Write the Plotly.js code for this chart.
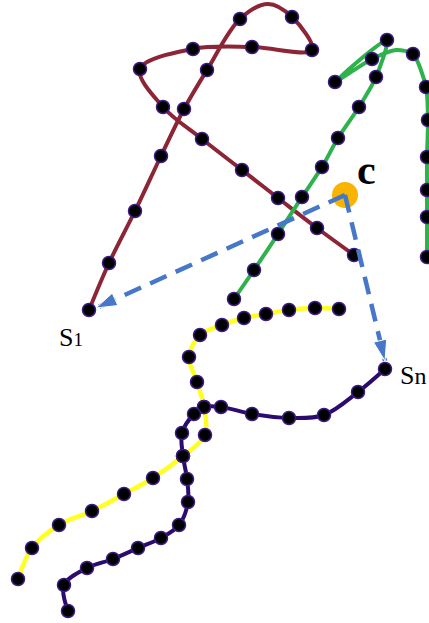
<!DOCTYPE html>
<html><head><meta charset="utf-8">
<script src="https://cdn.plot.ly/plotly-3.0.1.min.js"></script>
<style>html,body{margin:0;padding:0;background:#fff}#plot{width:429px;height:623px}</style>
</head><body><div id="plot"></div>
<script>
// Curves (pixel-space coordinates); dotted: 1 = dot drawn on vertex
const redX = [89,109,135,161,184,207,240,268,292,312,252,193,140,163,202,242,278,317,354];
const redY = [310,263,211,156,109,70,19,4,17,50,47,49,69,107,139,170,198,228,255];
const redDot = [1,1,1,1,1,1,1,0,1,1,1,1,1,1,1,1,1,1,1];

const greenX = [234,254,278,302,322,338,359,376,387,335,372,396,413,426,428,427,427,427,427];
const greenY = [299,270,234,197,167,138,107,77,40,82,59,50,54,87,120,157,190,217,257];
const greenDot = [1,1,1,1,1,1,1,1,1,1,1,0,1,1,1,1,1,1,1];

const yellowX = [339,315,289,266,244,222,200,189,197,204,205,183,153,124,92,59,32,18];
const yellowY = [309,308,310,314,318,325,335,357,382,407,435,456,478,494,511,525,548,579];
const yellowDot = [1,1,1,1,1,1,1,1,1,1,1,1,1,1,1,1,1,1];

const purpleX = [385,358,324,289,252,221,204,194,182,183,187,188,179,161,138,113,87,64,68];
const purpleY = [369,392,415,418,414,407,407,414,433,456,479,502,525,538,548,559,568,585,611];
const purpleDot = [1,1,1,1,1,1,1,1,1,1,1,1,1,1,1,1,1,1,1];

const centre = {x: 345, y: 195};
const arrowTips = [{x: 96, y: 308}, {x: 385, y: 361}];
const labels = [
  {text: '<b>c</b>', x: 366, y: 170, size: 42},
  {text: 'S<span style="font-size:19px">1</span>', x: 71, y: 337, size: 26},
  {text: 'S<span style="font-size:24px">n</span>', x: 413, y: 375, size: 26}
];

function curve(xs, ys, dots, color, smoothing, width) {
  return {
    x: xs, y: ys, type: 'scatter', mode: 'lines+markers',
    line: {color: color, width: width, shape: 'spline', smoothing: smoothing},
    marker: {size: dots.map(d => d ? 13 : 0), color: '#000000', opacity: 1,
             line: {color: '#3b1a86', width: 1.5}},
    hoverinfo: 'skip', showlegend: false, cliponaxis: false
  };
}

const traces = [];
traces.push(curve(redX, redY, redDot, '#8c2636', 1.0, 4));
traces.push(curve(greenX, greenY, greenDot, '#2fb24c', 0.7, 4));
traces.push(curve(yellowX, yellowY, yellowDot, '#ffff22', 1.0, 4.5));
traces.push(curve(purpleX, purpleY, purpleDot, '#2c0b6e', 1.0, 4));
traces.push({
  x: [centre.x], y: [centre.y], type: 'scatter', mode: 'markers',
  marker: {size: 26, color: '#f8b400', opacity: 1}, hoverinfo: 'skip', showlegend: false
});
arrowTips.forEach(t => {
  traces.push({
    x: [centre.x, t.x], y: [centre.y, t.y], type: 'scatter', mode: 'lines',
    line: {color: '#4677c8', width: 4.5, dash: '18px,10px'},
    hoverinfo: 'skip', showlegend: false
  });
  traces.push({
    x: [centre.x, t.x], y: [centre.y, t.y], type: 'scatter', mode: 'markers',
    marker: {symbol: 'arrow', size: [0, 22], angleref: 'previous', color: '#4677c8', opacity: 1},
    hoverinfo: 'skip', showlegend: false
  });
});

const layout = {
  width: 429, height: 623,
  margin: {l: 0, r: 0, t: 0, b: 0},
  paper_bgcolor: '#ffffff', plot_bgcolor: '#ffffff',
  xaxis: {range: [0, 429], visible: false, fixedrange: true},
  yaxis: {range: [623, 0], visible: false, fixedrange: true},
  annotations: labels.map(l => ({
    x: l.x, y: l.y, xref: 'x', yref: 'y', text: l.text, showarrow: false,
    font: {family: 'Liberation Serif, Times New Roman, serif', size: l.size, color: '#000'}
  }))
};
Plotly.newPlot('plot', traces, layout, {staticPlot: true, displayModeBar: false});
</script></body></html>
